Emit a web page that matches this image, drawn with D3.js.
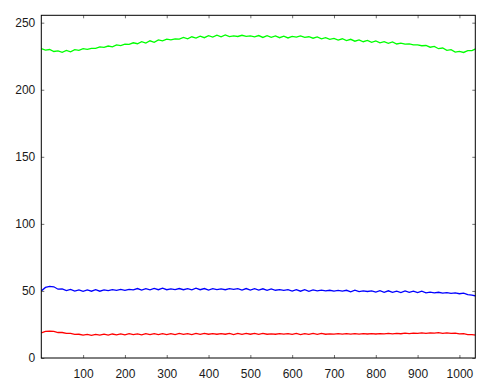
<!DOCTYPE html>
<html><head><meta charset="utf-8">
<script src="https://cdn.jsdelivr.net/npm/d3@7"></script>
<style>
html,body{margin:0;padding:0;background:#fff;}
svg{display:block;}
.tick text{font-family:"Liberation Sans",Arial,sans-serif;font-size:12px;fill:#1a1a1a;}
.tick line{stroke:#707070;stroke-width:1;}
</style></head><body>
<svg id="c" width="489" height="391"></svg>
<script>
// sample positions: every 10 units starting at 0
const xStart = 0, xStep = 10;
const xTicks = [100,200,300,400,500,600,700,800,900,1000];
const yTicks = [0,50,100,150,200,250];

const greenValues = [
230.6,229.5,230.0,228.5,229.0,227.9,229.3,228.3,229.9,229.4,
230.6,230.1,230.9,230.8,232.0,231.6,232.6,232.0,233.5,232.9,
234.0,233.8,235.0,234.3,235.9,234.8,236.5,235.4,237.2,236.4,
237.7,237.2,237.9,237.7,239.0,237.9,239.5,238.5,240.0,238.8,
240.3,239.2,240.7,239.4,240.8,239.6,240.1,239.7,240.6,239.8,
240.2,239.5,240.4,239.0,240.3,239.1,240.1,238.8,239.9,238.6,
239.8,239.2,240.2,239.0,239.5,238.4,239.4,238.0,238.9,237.6,
238.3,237.0,238.0,236.6,237.6,236.2,237.2,235.8,236.8,235.4,
236.4,235.0,235.9,234.6,235.6,234.1,234.8,234.0,234.2,233.4,
233.5,232.8,233.0,231.7,232.3,230.6,231.1,229.4,229.9,228.1,
228.6,227.8,229.1,229.1,230.6];

const blueValues = [
50.0,52.6,53.4,53.1,51.3,51.5,50.2,51.1,49.9,50.8,
49.7,50.7,49.8,50.9,49.8,50.8,50.3,50.9,50.4,51.1,
50.5,51.2,50.8,51.8,50.6,51.7,50.8,51.9,50.9,52.0,
50.9,51.6,51.0,51.8,50.9,51.7,50.8,52.0,50.9,51.8,
50.7,51.7,51.0,51.6,50.9,51.7,51.1,51.7,50.6,51.8,
50.7,51.7,50.6,51.6,50.4,51.5,50.5,51.0,50.4,50.9,
49.9,51.0,49.8,50.9,49.7,50.8,50.1,50.6,50.0,50.5,
49.8,50.4,49.9,50.5,49.4,50.6,49.5,50.0,49.6,50.1,
49.1,50.2,49.0,50.1,48.9,49.9,48.8,50.0,48.9,49.9,
48.7,49.8,48.6,49.1,48.6,49.0,48.4,48.8,48.2,48.6,
47.9,48.4,47.3,46.8,46.2];

const redValues = [
18.8,19.9,20.0,19.8,19.0,19.0,18.3,18.3,17.6,17.7,
17.0,17.6,16.9,17.6,17.0,17.8,17.1,17.9,17.2,18.0,
17.3,18.1,17.4,18.0,17.3,18.1,17.4,18.2,17.5,18.1,
17.4,18.2,17.5,18.3,17.6,18.2,17.5,18.3,17.6,18.4,
17.7,18.1,17.7,18.1,17.7,18.3,17.5,18.3,17.6,18.3,
17.7,18.4,17.6,18.3,17.7,18.0,17.7,18.1,17.8,18.2,
17.6,18.3,17.5,18.2,17.6,18.3,17.6,18.4,17.7,18.0,
17.8,18.1,17.8,18.2,17.8,18.1,17.8,18.2,17.9,18.2,
17.9,18.2,18.0,18.3,18.0,18.4,18.1,18.5,18.2,18.6,
18.3,18.7,18.4,18.8,18.5,18.9,18.3,18.8,18.3,18.5,
18.0,18.1,17.5,17.5,17.0];

const series = [
  {name:"green", values:greenValues, color:"#00ff00"},
  {name:"blue", values:blueValues, color:"#0000ff"},
  {name:"red", values:redValues, color:"#ff0000"}
];

const L = 41.3, R = 475.3, T = 15.3, B = 358;
const svg = d3.select("#c");
const x = d3.scaleLinear().domain([0, 1038]).range([L, R]);
const y = d3.scaleLinear().domain([0, 255.5]).range([B, T]);

svg.append("defs").append("clipPath").attr("id","clip")
  .append("rect").attr("x",L).attr("y",T).attr("width",R-L).attr("height",B-T);

const line = d3.line().x((d,i)=>x(xStart + i*xStep)).y(d=>y(d));
svg.append("g").attr("clip-path","url(#clip)")
  .selectAll("path").data(series).join("path")
  .attr("d", d=>line(d.values))
  .attr("fill","none").attr("stroke",d=>d.color).attr("stroke-width",1.3)
  .attr("stroke-linejoin","miter");

function style(g){ g.select(".domain").remove(); }
svg.append("g").attr("transform",`translate(0,${B})`)
  .call(d3.axisBottom(x).tickValues(xTicks).tickSizeInner(-3).tickSizeOuter(0).tickPadding(11.5).tickFormat(d3.format("d")))
  .call(style);
svg.append("g").attr("transform",`translate(0,${T})`)
  .call(d3.axisTop(x).tickValues(xTicks).tickSizeInner(-3).tickSizeOuter(0).tickFormat(""))
  .call(style);
svg.append("g").attr("transform",`translate(${L},0)`)
  .call(d3.axisLeft(y).tickValues(yTicks).tickSizeInner(-3).tickSizeOuter(0).tickPadding(6))
  .call(style);
svg.append("g").attr("transform",`translate(${R},0)`)
  .call(d3.axisRight(y).tickValues(yTicks).tickSizeInner(-3).tickSizeOuter(0).tickFormat(""))
  .call(style);

svg.append("rect").attr("x",L).attr("y",T).attr("width",R-L).attr("height",B-T)
  .attr("fill","none").attr("stroke","#000").attr("stroke-width",1);
</script></body></html>
